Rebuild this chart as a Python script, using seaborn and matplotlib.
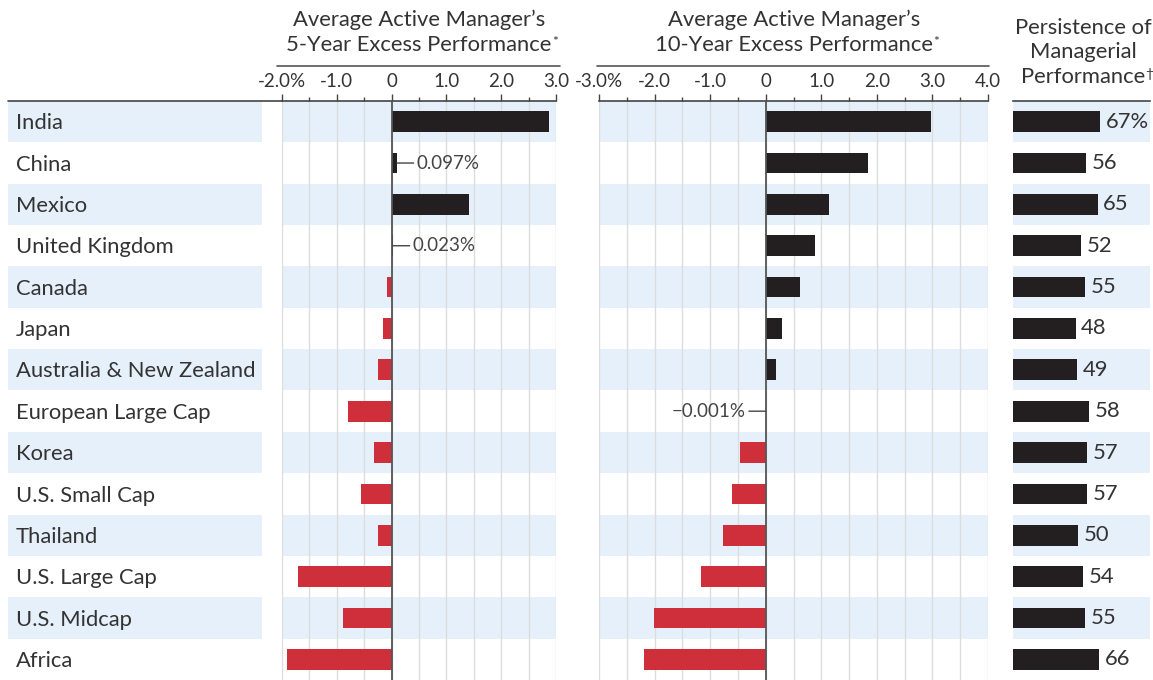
import pandas as pd
import matplotlib
matplotlib.use('Agg')
import matplotlib.pyplot as plt
from matplotlib.lines import Line2D
from matplotlib.ticker import MultipleLocator
import seaborn as sb

markets = ['India', 'China', 'Mexico', 'United Kingdom', 'Canada', 'Japan',
           'Australia & New Zealand', 'European Large Cap', 'Korea', 'U.S. Small Cap',
           'Thailand', 'U.S. Large Cap', 'U.S. Midcap', 'Africa']
five_year = [2.87, 0.097, 1.42, 0.023, -0.09, -0.16, -0.24, -0.80, -0.32, -0.55,
             -0.25, -1.71, -0.88, -1.91]
ten_year = [2.98, 1.84, 1.13, 0.89, 0.62, 0.30, 0.19, -0.001, -0.46, -0.61,
            -0.76, -1.17, -2.01, -2.19]
persistence = [67, 56, 65, 52, 55, 48, 49, 58, 57, 57, 50, 54, 55, 66]

five_ticks = [-2, -1, 0, 1, 2, 3]
five_tick_labels = ['-2.0%', '-1.0', '0', '1.0', '2.0', '3.0']
ten_ticks = [-3, -2, -1, 0, 1, 2, 3, 4]
ten_tick_labels = ['-3.0%', '-2.0', '-1.0', '0', '1.0', '2.0', '3.0', '4.0']
persist_labels = ['67%'] + [str(v) for v in persistence[1:]]

sb.set_style('white')
plt.rcParams['font.family'] = ['Lato', 'DejaVu Sans']

W, H = 1153, 680
TOP = 101
band = '#e6f0fa'
ink = '#333333'
dark = '#231f20'
red = '#cf2e3b'
n = len(markets)

fig = plt.figure(figsize=(W / 100, H / 100), dpi=100)


def box(x0, x1):
    return [x0 / W, 0, (x1 - x0) / W, (H - TOP) / H]


def stripes(ax):
    for i in range(0, n, 2):
        ax.axhspan(i - 0.5, i + 0.5, color=band, lw=0, zorder=0)
    ax.set_ylim(n - 0.5, -0.5)


# market names
ax_lab = fig.add_axes(box(8, 262))
ax_lab.set_xlim(0, 1)
stripes(ax_lab)
ax_lab.axis('off')
for i, m in enumerate(markets):
    ax_lab.text(8 / 254, i + 0.04, m, fontsize=15.8, color=ink, va='center', ha='left')
fig.add_artist(Line2D([8 / W, 282 / W], [1 - TOP / H] * 2, color='#444', lw=1.2))


def panel(x0, x1, values, lims, ticks, tick_labels):
    ax = fig.add_axes(box(x0, x1))
    df = pd.DataFrame({'market': markets, 'value': values,
                       'sign': ['pos' if v >= 0 else 'neg' for v in values]})
    sb.barplot(data=df, x='value', y='market', hue='sign', order=markets,
               palette={'pos': dark, 'neg': red}, dodge=False, width=0.5,
               saturation=1, legend=False, linewidth=0, ax=ax)
    ax.set_xlim(*lims)
    stripes(ax)
    ax.set_xticks(ticks, tick_labels)
    ax.xaxis.set_minor_locator(MultipleLocator(0.5))
    ax.xaxis.tick_top()
    ax.tick_params(axis='x', which='major', direction='out', length=5, width=1,
                   color='#444', labelsize=13.5, labelcolor=ink, pad=3)
    ax.tick_params(axis='x', which='minor', direction='out', length=3, width=1, color='#444')
    ax.grid(axis='x', which='both', color='#dcdcdc', lw=1)
    ax.set_axisbelow(True)
    ax.set_yticks([])
    ax.set_xlabel('')
    ax.set_ylabel('')
    for s in ['left', 'right', 'bottom']:
        ax.spines[s].set_visible(False)
    ax.spines['top'].set_color('#444')
    ax.spines['top'].set_linewidth(1.2)
    ax.axvline(0, color='#555', lw=1.3, zorder=3)
    return ax


ax1 = panel(282, 556, five_year, (-2, 3), five_ticks, five_tick_labels)
ax2 = panel(599, 988, ten_year, (-3, 4), ten_ticks, ten_tick_labels)

# callouts for the tiny bars
note = dict(textcoords='offset pixels', va='center', fontsize=13.5, color='#444')
ax1.annotate('0.097%', xy=(five_year[1], 1), xytext=(20, 0), ha='left',
             arrowprops=dict(arrowstyle='-', color='#444', lw=1, relpos=(0, 0.5),
                             shrinkA=0, shrinkB=0), **note)
ax1.annotate('0.023%', xy=(five_year[3], 3), xytext=(20, 0), ha='left',
             arrowprops=dict(arrowstyle='-', color='#444', lw=1, relpos=(0, 0.5),
                             shrinkA=0, shrinkB=0), **note)
ax2.annotate('\u22120.001%', xy=(ten_year[7], 7), xytext=(-20, 0), ha='right',
             arrowprops=dict(arrowstyle='-', color='#444', lw=1, relpos=(1, 0.5),
                             shrinkA=0, shrinkB=0), **note)

# persistence
ax3 = fig.add_axes(box(1013, 1150))
sb.barplot(x=persistence, y=markets, order=markets, color=dark, width=0.5,
           saturation=1, linewidth=0, ax=ax3)
ax3.set_xlim(0, 105)
stripes(ax3)
ax3.set_xticks([])
ax3.set_yticks([])
for s in ['left', 'right', 'bottom']:
    ax3.spines[s].set_visible(False)
ax3.spines['top'].set_color('#444')
ax3.spines['top'].set_linewidth(1.2)
ax3.bar_label(ax3.containers[0], labels=persist_labels, padding=4, fontsize=15.8, color=ink)


# headers
def header(x, y, s, mark=None):
    t = fig.text(x / W, 1 - y / H, s, ha='center', va='center', fontsize=15.8, color=ink)
    if mark:
        ax_lab.annotate(mark, xy=(1, 0.95), xycoords=t, ha='left', va='top',
                        fontsize=10, color=ink, annotation_clip=False)
    return t


header(419, 20, 'Average Active Manager\u2019s')
header(419, 45, '5-Year Excess Performance', '*')
header(794, 20, 'Average Active Manager\u2019s')
header(794, 45, '10-Year Excess Performance', '*')
header(1083, 28, 'Persistence of')
header(1083, 52, 'Managerial')
header(1083, 77, 'Performance', '\u2020')

for x0, x1 in [(277, 560), (597, 989)]:
    fig.add_artist(Line2D([x0 / W, x1 / W], [1 - 66 / H] * 2, color='#555', lw=1.2))

plt.savefig('out.png', dpi=100)
